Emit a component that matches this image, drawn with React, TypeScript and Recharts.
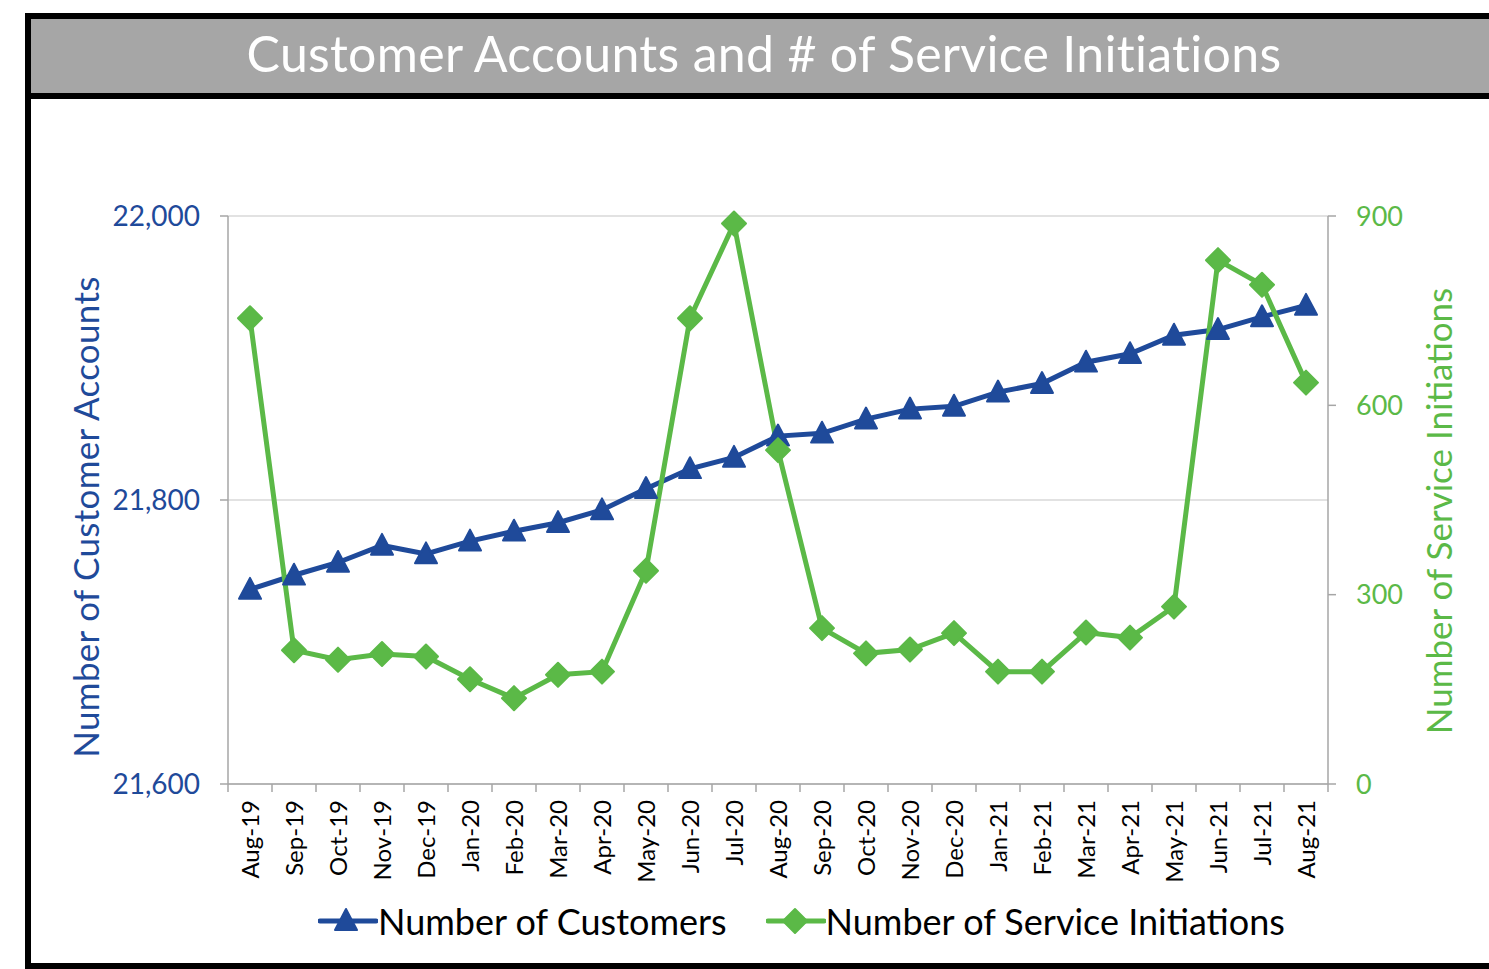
import React from 'react';
import { ComposedChart, Line, XAxis, YAxis, CartesianGrid } from 'recharts';

const months = ['Aug-19','Sep-19','Oct-19','Nov-19','Dec-19','Jan-20','Feb-20','Mar-20','Apr-20','May-20','Jun-20','Jul-20','Aug-20','Sep-20','Oct-20','Nov-20','Dec-20','Jan-21','Feb-21','Mar-21','Apr-21','May-21','Jun-21','Jul-21','Aug-21'];
const customers = [21737,21747,21756,21768,21762,21771,21778,21784,21793,21808,21822,21830,21845,21847,21857,21864,21866,21876,21882,21897,21903,21916,21920,21929,21937];
const initiations = [738,212,197,206,202,166,136,173,178,338,738,888,529,247,207,213,239,178,178,240,232,281,830,791,636];
const leftTicks = [21600, 21800, 22000];
const rightTicks = [0, 300, 600, 900];

const data = months.map((m, i) => ({ month: m, customers: customers[i], initiations: initiations[i] }));

const BLUE = '#1F4A9A';
const GREEN = '#5BB947';
const AXIS = '#A6A6A6';
const FONT = 'Lato, "Open Sans", sans-serif';

const W = 1489;
const H = 969;
const PLOT_LEFT = 228;
const PLOT_RIGHT = 1328;
const PLOT_TOP = 216;
const PLOT_BOTTOM = 784;
const BAND = (PLOT_RIGHT - PLOT_LEFT) / months.length;

const Triangle = (props: any) => {
  const { cx, cy } = props;
  if (cx == null || cy == null) return null;
  const s = 11;
  return (
    <path
      d={`M${cx},${cy - s * 1.05} L${cx + s},${cy + s * 0.85} L${cx - s},${cy + s * 0.85} Z`}
      fill={BLUE}
      stroke={BLUE}
      strokeWidth={2}
      strokeLinejoin="round"
    />
  );
};

const Diamond = (props: any) => {
  const { cx, cy } = props;
  if (cx == null || cy == null) return null;
  const s = 12;
  return (
    <path
      d={`M${cx},${cy - s} L${cx + s},${cy} L${cx},${cy + s} L${cx - s},${cy} Z`}
      fill={GREEN}
      stroke={GREEN}
      strokeWidth={2}
      strokeLinejoin="round"
    />
  );
};

const XTick = (props: any) => {
  const { x, payload, index } = props;
  const y0 = PLOT_BOTTOM;
  const last = index === months.length - 1;
  return (
    <g>
      <line x1={x - BAND / 2} x2={x - BAND / 2} y1={y0} y2={y0 + 8} stroke={AXIS} strokeWidth={1.5} />
      {last && <line x1={x + BAND / 2} x2={x + BAND / 2} y1={y0} y2={y0 + 8} stroke={AXIS} strokeWidth={1.5} />}
      <text
        x={0}
        y={0}
        transform={`translate(${x + 9}, ${y0 + 16}) rotate(-90)`}
        textAnchor="end"
        fontSize={24}
        fontFamily={FONT}
        fill="#000"
      >
        {payload.value}
      </text>
    </g>
  );
};

const fmt = (v: number) => v.toLocaleString('en-US');

export default function App() {
  return (
    <div style={{ position: 'absolute', left: 0, top: 0, width: W, height: H, background: '#fff', overflow: 'hidden', fontFamily: FONT }}>
      {/* frame */}
      <div style={{ position: 'absolute', left: 25, top: 13, width: W, height: H - 13, boxSizing: 'border-box', borderLeft: '6px solid #000', borderTop: '6px solid #000', borderBottom: '6px solid #000' }} />
      <div style={{ position: 'absolute', left: 31, top: 19, width: W, height: 74, background: '#A6A6A6', borderBottom: '6px solid #000' }} />
      <div style={{ position: 'absolute', left: 31, top: 16, width: W - 31, height: 74, display: 'flex', alignItems: 'center', justifyContent: 'center' }}>
        <div style={{ color: '#fff', fontSize: 50, letterSpacing: 0.3, fontFamily: FONT, position: 'relative', left: 4 }}>
          Customer Accounts and # of Service Initiations
        </div>
      </div>

      <div style={{ position: 'absolute', left: 0, top: 0 }}>
        <ComposedChart width={W} height={H} data={data} margin={{ top: PLOT_TOP, right: 0, bottom: 0, left: 0 }}>
          <CartesianGrid yAxisId="left" vertical={false} stroke="#D9D9D9" strokeWidth={1.5} />
          <XAxis
            dataKey="month"
            scale="band"
            height={H - PLOT_BOTTOM}
            interval={0}
            tickLine={false}
            axisLine={{ stroke: AXIS, strokeWidth: 1.5 }}
            tick={<XTick />}
          />
          <YAxis
            yAxisId="left"
            width={PLOT_LEFT}
            domain={[21600, 22000]}
            ticks={leftTicks}
            tickFormatter={fmt}
            axisLine={{ stroke: AXIS, strokeWidth: 1.5 }}
            tickLine={{ stroke: AXIS, strokeWidth: 1.5 }}
            tickSize={8}
            tickMargin={20}
            tick={{ fill: BLUE, fontSize: 28, fontFamily: FONT }}
            label={{
              content: () => (
                <text
                  transform={`translate(99, 517) rotate(-90)`}
                  textAnchor="middle"
                  fontSize={35}
                  letterSpacing={0.3}
                  fontFamily={FONT}
                  fill={BLUE}
                >
                  Number of Customer Accounts
                </text>
              ),
            }}
          />
          <YAxis
            yAxisId="right"
            orientation="right"
            width={W - PLOT_RIGHT}
            domain={[0, 900]}
            ticks={rightTicks}
            axisLine={{ stroke: AXIS, strokeWidth: 1.5 }}
            tickLine={{ stroke: AXIS, strokeWidth: 1.5 }}
            tickSize={8}
            tickMargin={20}
            tick={{ fill: GREEN, fontSize: 27, fontFamily: FONT }}
            label={{
              content: () => (
                <text
                  transform={`translate(1452, 511) rotate(-90)`}
                  textAnchor="middle"
                  fontSize={35}
                  fontFamily={FONT}
                  fill={GREEN}
                >
                  Number of Service Initiations
                </text>
              ),
            }}
          />
          <Line
            yAxisId="left"
            dataKey="customers"
            stroke={BLUE}
            strokeWidth={5}
            dot={<Triangle />}
            activeDot={false}
            isAnimationActive={false}
          />
          <Line
            yAxisId="right"
            dataKey="initiations"
            stroke={GREEN}
            strokeWidth={5}
            dot={<Diamond />}
            activeDot={false}
            isAnimationActive={false}
          />
        </ComposedChart>
      </div>

      {/* legend */}
      <div style={{ position: 'absolute', left: 318, top: 899, height: 44, display: 'flex', alignItems: 'center', fontFamily: FONT, fontSize: 36, color: '#000' }}>
        <svg width={60} height={30}>
          <line x1={2} x2={58} y1={15} y2={15} stroke={BLUE} strokeWidth={5} strokeLinecap="round" />
          <path d="M28,3 L39,24 L17,24 Z" fill={BLUE} stroke={BLUE} strokeWidth={2} strokeLinejoin="round" />
        </svg>
        <span>Number of Customers</span>
        <svg width={60} height={30} style={{ marginLeft: 39 }}>
          <line x1={2} x2={58} y1={15} y2={15} stroke={GREEN} strokeWidth={5} strokeLinecap="round" />
          <path d="M29,3 L41,15 L29,27 L17,15 Z" fill={GREEN} stroke={GREEN} strokeWidth={2} strokeLinejoin="round" />
        </svg>
        <span>Number of Service Initiations</span>
      </div>
    </div>
  );
}
